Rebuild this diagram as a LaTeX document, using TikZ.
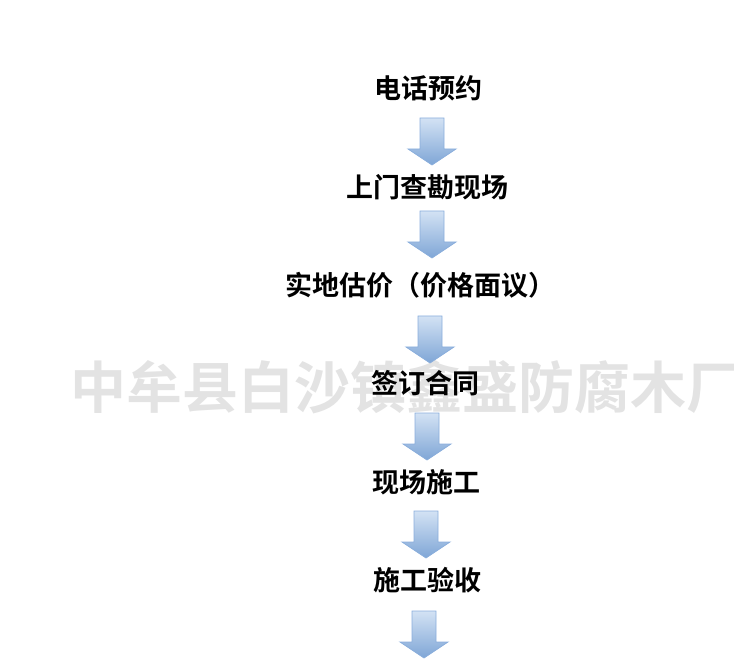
\documentclass[tikz,border=0pt]{standalone}
\usepackage{fontspec}
\newfontfamily\cjk{Noto Sans CJK SC Bold}
\usetikzlibrary{positioning}
\definecolor{arrowtop}{HTML}{D3E2F4}
\definecolor{arrowbot}{HTML}{7FA6D6}
\definecolor{arrowline}{HTML}{8AAEDC}
\tikzset{
  stepname/.style={font=\cjk\fontsize{27}{27}\selectfont, inner sep=0pt},
  downarr/.pic={
    \path[draw=arrowline, top color=arrowtop, bottom color=arrowbot, line width=0.8pt]
      (-12,-23) -- (12,-23) -- (12,8) -- (24,8) -- (0,24) -- (-24,8) -- (-12,8) -- cycle;
  }
}
\begin{document}
\begin{tikzpicture}[x=1pt,y=-1pt]
\useasboundingbox (0,0) rectangle (734,668);
\node[font=\cjk\fontsize{56}{56}\selectfont, text=black!11, anchor=west, inner sep=0pt] (mark) at (70,387) {中牟县白沙镇鑫盛防腐木厂};
\node[stepname] (call) at (428,88) {电话预约};
\pic at (432,141) {downarr};
\node[stepname] (visit) at (427,187) {上门查勘现场};
\pic at (432,234) {downarr};
\node[stepname] (quote) at (420,285) {实地估价（价格面议）};
\pic at (430,339) {downarr};
\node[stepname] (sign) at (425,383) {签订合同};
\pic at (427,436) {downarr};
\node[stepname] (build) at (426,482) {现场施工};
\pic at (426,534) {downarr};
\node[stepname] (check) at (427,580) {施工验收};
\pic at (424,634) {downarr};
\end{tikzpicture}
\end{document}
